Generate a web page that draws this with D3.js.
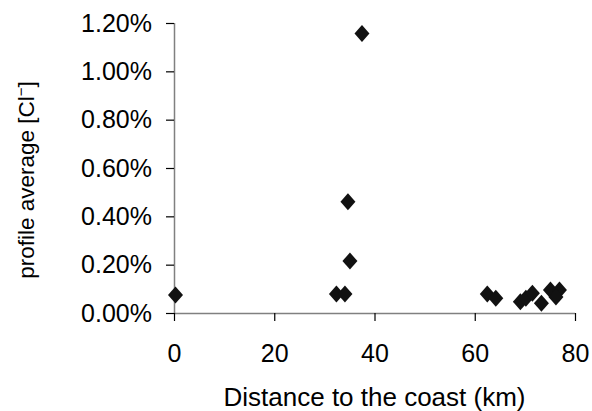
<!DOCTYPE html>
<html>
<head>
<meta charset="utf-8">
<script src="https://cdn.jsdelivr.net/npm/d3@7"></script>
<style>
body{margin:0;background:#fff;}
text{font-family:"Liberation Sans",Arial,sans-serif;fill:#000;}
</style>
</head>
<body>
<div id="chart"></div>
<script>
// distance (km) and profile average (%)
let distance=[0.3,32.4,34.1,35.1,34.7,37.5,62.5,64.2,69.1,70.2,71.5,73.3,75.1,76.9,76.2];
let profileAvg=[0.074,0.079,0.079,0.215,0.46,1.157,0.079,0.061,0.047,0.061,0.082,0.040,0.095,0.095,0.066];
let xTicks=[0,20,40,60,80];
let yTicks=[0,0.2,0.4,0.6,0.8,1.0,1.2];

let width=592, height=411;
let svg=d3.select("#chart").append("svg").attr("width",width).attr("height",height);

let x=d3.scaleLinear().domain([0,80]).range([174,575]);
let y=d3.scaleLinear().domain([0,1.2]).range([313,23]);

// axes
let xAxis=svg.append("g").attr("transform","translate(0,313)")
	.call(d3.axisBottom(x).tickValues(xTicks).tickSize(8).tickPadding(23).tickFormat(d3.format("d")));
let yAxis=svg.append("g").attr("transform","translate(174,0)")
	.call(d3.axisLeft(y).tickValues(yTicks).tickSize(8).tickPadding(14).tickFormat(d=>d.toFixed(2)+"%"));

svg.selectAll(".domain").attr("stroke","#808080").attr("stroke-width",1.5);
svg.selectAll(".tick line").attr("stroke","#000").attr("stroke-width",1.2);
svg.selectAll(".tick text").style("font-size","25px").attr("fill","#000");
xAxis.selectAll(".domain").attr("d","M174,0.5H575");
yAxis.selectAll(".domain").attr("d","M0.5,23V313");

// points
let pts=distance.map((d,i)=>({d:d,v:profileAvg[i]}));
svg.selectAll(".pt").data(pts).join("path").attr("class","pt")
	.attr("transform",d=>"translate("+x(d.d)+","+y(d.v)+")")
	.attr("d","M0,-8.5L7.5,0L0,8.5L-7.5,0Z")
	.attr("fill","#111");

// titles
svg.append("text").attr("x",374.5).attr("y",406).attr("text-anchor","middle")
	.style("font-size","26px").text("Distance to the coast (km)");

let yt=svg.append("text").attr("transform","translate(34,180) rotate(-90)").attr("text-anchor","middle")
	.style("font-size","22.5px");
yt.append("tspan").text("profile average [Cl");
yt.append("tspan").attr("dy",-8).style("font-size","15px").text("−");
yt.append("tspan").attr("dy",8).text("]");
</script>
</body>
</html>
